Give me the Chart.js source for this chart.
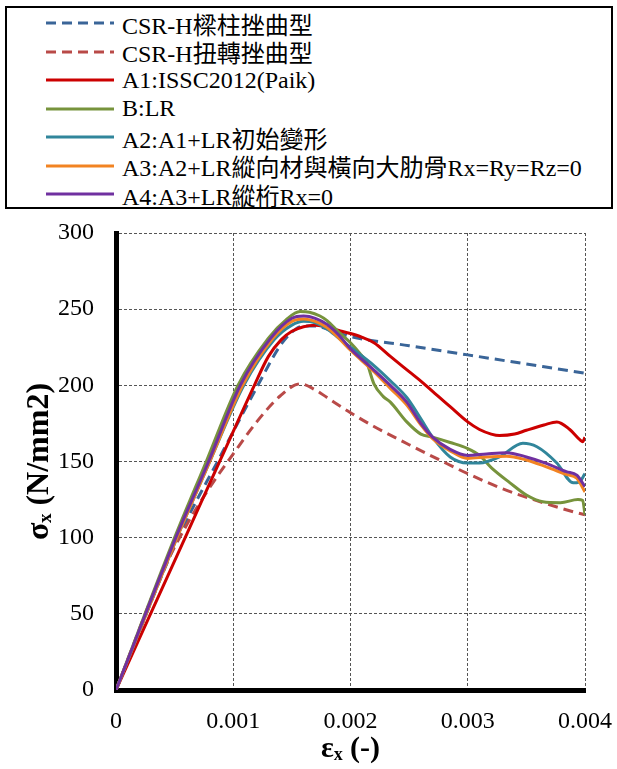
<!DOCTYPE html>
<html lang="zh-Hant">
<head>
<meta charset="UTF-8" />
<title>σx - εx</title>
<script src="https://cdn.jsdelivr.net/npm/chart.js"></script>
<style>
  html, body { margin: 0; padding: 0; background: #fff; }
  body { width: 617px; height: 769px; position: relative; overflow: hidden;
         font-family: "Liberation Serif", "Times New Roman", "Noto Sans CJK TC", serif; }
  #leyenda { position: absolute; left: 5px; top: 6px; width: 608px; height: 203px;
             box-sizing: border-box; border: 2px solid #000; padding-top: 1px; }
  .fila { height: 28.5px; display: flex; align-items: center; font-size: 24px; color: #000; white-space: nowrap; }
  .fila svg { margin-left: 39px; margin-right: 8px; flex: none; }
  #grafica { position: absolute; left: 0; top: 210px; }
</style>
</head>
<body>
<div id="leyenda"></div>
<canvas id="grafica" width="617" height="559"></canvas>

<script>
// ejes
const xTicks = [0, 0.001, 0.002, 0.003, 0.004];
const yTicks = [0, 50, 100, 150, 200, 250, 300];

// nombres de las series
const nombres = [
  "CSR-H樑柱挫曲型",
  "CSR-H扭轉挫曲型",
  "A1:ISSC2012(Paik)",
  "B:LR",
  "A2:A1+LR初始變形",
  "A3:A2+LR縱向材與橫向大肋骨Rx=Ry=Rz=0",
  "A4:A3+LR縱桁Rx=0"
];

// [εx, σx]
const csrColumna = [[0,0],[0.00053,100],[0.00088,152],[0.00121,200],[0.0014,226],[0.0015,235],[0.0016,239],
  [0.0017,239],[0.0018,237],[0.002,232],[0.0025,226],[0.003,220],[0.0035,214],[0.004,208]];

const csrTorsion = [[0,0],[0.0004,78],[0.0006,108],[0.0008,133],[0.001,155],[0.0012,176],[0.0014,193],
  [0.00157,201],[0.0017,197],[0.0018,192],[0.002,182],[0.0022,173],[0.0025,161],[0.00276,151],
  [0.003,142],[0.0033,132],[0.0036,124],[0.0039,117],[0.004,115]];

const serieA1 = [[0,0],[0.00059,100],[0.00089,151],[0.00118,200],[0.0013,219],[0.00141,230],[0.0015,235.5],
  [0.0016,238.5],[0.0017,239.5],[0.0018,238],[0.0019,236],[0.002,234],[0.0021,231.5],[0.0022,228],
  [0.00234,219],[0.0025,209],[0.00262,201.5],[0.0027,196],[0.00285,186],[0.003,176],[0.0031,171],[0.0032,168],
  [0.00327,167],[0.0034,168],[0.0035,170.5],[0.00365,174],[0.00376,176],[0.00387,171],[0.00396,164],
  [0.00398,163],[0.004,166]];

const serieB = [[0,0],[0.0005,100],[0.00077,150],[0.00104,200],[0.0013,231],[0.00145,243],
  [0.00157,248.4],[0.00165,248],[0.00174,245.5],[0.0018,242.5],[0.0019,235],[0.002,228],[0.00208,221],
  [0.00214,214.5],[0.0022,201],[0.00228,192.6],[0.00234,189],[0.00248,176],[0.0026,168],[0.0027,166],
  [0.00285,162.5],[0.003,158.5],[0.0031,154],[0.0032,146],[0.00336,136],[0.0035,128],[0.00364,123.6],
  [0.00379,123],[0.00394,125],[0.00398,124.5],[0.004,115]];

const serieA2 = [[0,0],[0.00052,100],[0.0008,150],[0.00109,200],[0.00135,230],[0.0015,239.5],[0.0016,242],
  [0.0017,241],[0.0018,237],[0.0019,231],[0.002,225],[0.0022,213],[0.00234,203],[0.00248,192],[0.0026,178],
  [0.0027,166],[0.00285,153],[0.003,149],[0.0031,149],[0.00327,153],[0.00347,162],[0.00359,159.7],
  [0.00376,149],[0.0039,136],[0.00395,136.5],[0.004,142]];

const serieA3 = [[0,0],[0.00052,100],[0.0008,150],[0.00108,200],[0.00134,231],[0.0015,242],[0.0016,243.6],
  [0.0017,242],[0.0018,238],[0.0019,231],[0.002,223],[0.0022,209],[0.00234,198],[0.00248,187],[0.0026,174],
  [0.0027,165],[0.00285,157],[0.003,152],[0.00316,153],[0.00333,153.5],[0.0035,151],[0.00367,146.5],
  [0.00384,141.5],[0.00393,139],[0.004,130]];

const serieA4 = [[0,0],[0.00051,100],[0.00079,150],[0.00106,200],[0.00132,231],[0.0015,244],[0.0016,245.5],
  [0.0017,244],[0.0018,240],[0.0019,233],[0.002,224],[0.0022,210],[0.00234,200],[0.00248,189],[0.0026,175],
  [0.0027,166],[0.00285,158],[0.003,154],[0.00316,155],[0.00333,155.8],[0.0035,153],[0.00367,148.8],
  [0.00384,143.3],[0.00393,141],[0.004,133.5]];

const series = [csrColumna, csrTorsion, serieA1, serieB, serieA2, serieA3, serieA4];
const colores = ["#3A6598", "#B94A48", "#CC0000", "#77933C", "#31869B", "#F28322", "#7030A0"];
const guiones = [[10, 6], [10, 6], [], [], [], [], []];

const fuente = "'Liberation Serif', 'Times New Roman', 'Noto Sans CJK TC', serif";

// leyenda en HTML, igual que el cuadro del original
const leyenda = document.getElementById("leyenda");
nombres.forEach((nombre, i) => {
  const fila = document.createElement("div");
  fila.className = "fila";
  const dash = guiones[i].length ? `stroke-dasharray="${guiones[i].join(" ")}"` : "";
  fila.innerHTML = `<svg width="68" height="6"><line x1="0" y1="3" x2="68" y2="3" stroke="${colores[i]}" stroke-width="3" ${dash}/></svg><span>${nombre}</span>`;
  leyenda.appendChild(fila);
});

new Chart(document.getElementById("grafica"), {
  type: "line",
  data: {
    datasets: series.map((datos, i) => ({
      label: nombres[i],
      data: datos,
      borderColor: colores[i],
      borderWidth: 3,
      borderDash: guiones[i],
      pointRadius: 0,
      cubicInterpolationMode: "monotone",
      fill: false,
      order: series.length - 1 - i
    }))
  },
  options: {
    responsive: false,
    devicePixelRatio: 1,
    animation: false,
    layout: { padding: { top: 23, right: 32, left: 0, bottom: 0 } },
    plugins: { legend: { display: false }, tooltip: { enabled: false } },
    scales: {
      x: {
        type: "linear",
        min: 0, max: 0.004,
        afterFit: s => { s.height = 79; s.paddingLeft = 0; s.paddingRight = 0; },
        afterBuildTicks: s => { s.ticks = xTicks.map(v => ({ value: v })); },
        ticks: { color: "#000", padding: 17, font: { family: fuente, size: 24 }, callback: v => String(v) },
        grid: { color: "#555", lineWidth: 1, drawTicks: false },
        border: { color: "#000", width: 5, dash: [3, 2] },
        title: { display: true, text: "εₓ (-)", color: "#000", padding: { top: 0, bottom: 2 },
                 font: { family: fuente, size: 30, weight: "bold" } }
      },
      y: {
        min: 0, max: 300,
        afterFit: s => { s.width = 116; s.paddingTop = 0; s.paddingBottom = 0; },
        afterBuildTicks: s => { s.ticks = yTicks.map(v => ({ value: v })); },
        ticks: { color: "#000", padding: 22, font: { family: fuente, size: 24 } },
        grid: { color: "#555", lineWidth: 1, drawTicks: false },
        border: { color: "#000", width: 5, dash: [3, 2] },
        title: { display: true, text: "σₓ (N/mm2)", color: "#000", padding: { top: 21, bottom: 0 },
                 font: { family: fuente, size: 32, weight: "bold" } }
      }
    }
  }
});
</script>
</body>
</html>
